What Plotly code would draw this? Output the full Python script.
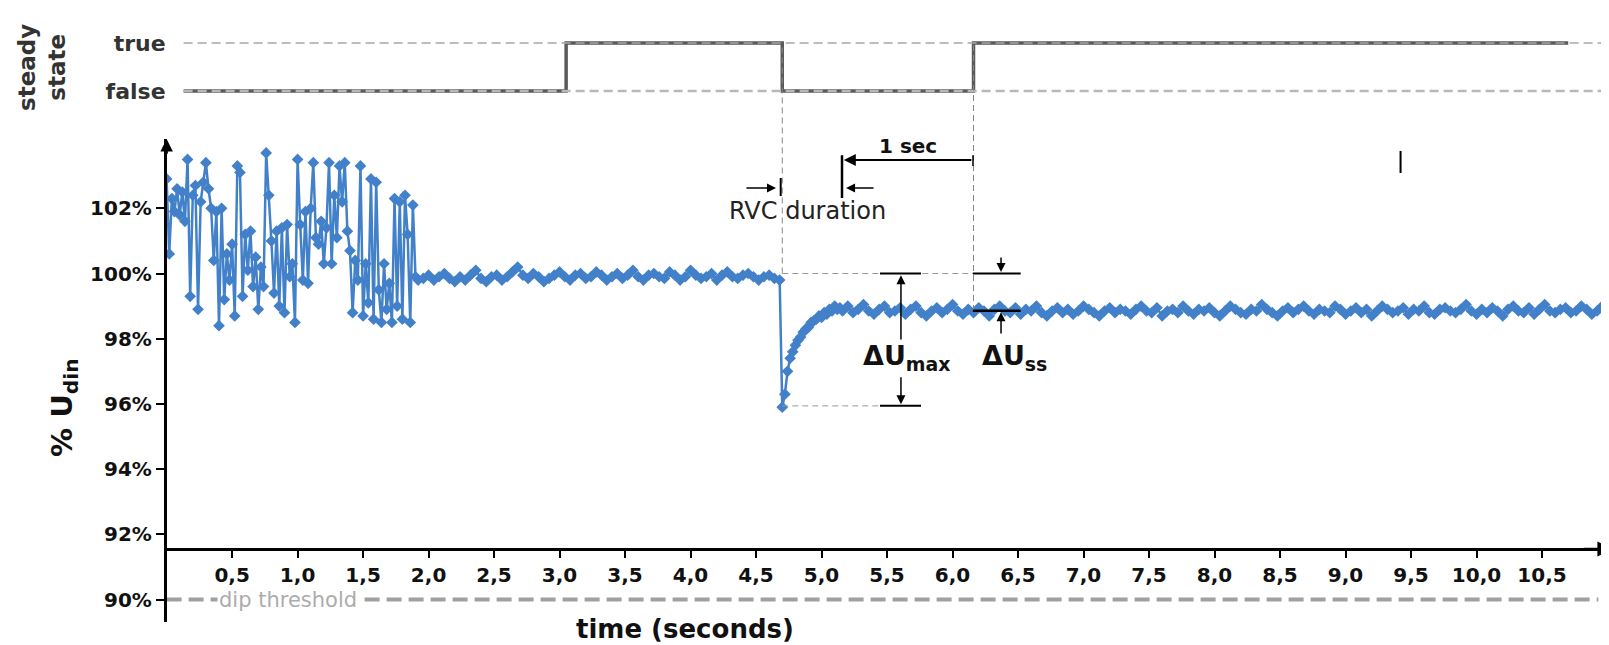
import plotly.graph_objects as go

W, H = 1609, 645

# ---------------- data ----------------
noisy_start, noisy_step = 0.0, 0.02
noisy_vals = [102.9, 100.6, 102.3, 101.9, 102.6, 101.8, 102.5, 101.6, 103.5, 99.3,
              102.4, 102.7, 98.9, 102.2, 102.8, 103.4, 102.6, 102.0, 100.4, 101.9,
              98.4, 102.0, 99.2, 100.6, 99.8, 100.9, 98.7, 103.3, 103.1, 99.3,
              101.2, 100.1, 101.3, 99.6, 100.5, 98.9, 100.2, 99.6, 103.7, 102.4,
              101.0, 99.4, 101.3, 99.0, 101.4, 98.8, 101.5, 99.9, 100.3, 98.5,
              103.5, 101.5, 99.8, 101.9, 99.7, 102.0, 103.4, 101.1, 100.9, 101.6,
              100.3, 101.4, 103.4, 100.3, 102.4, 101.1, 103.3, 102.2, 103.4, 101.3,
              100.7, 98.8, 100.4, 99.8, 103.3, 98.7, 100.3, 99.1, 102.9, 98.6,
              102.8, 99.5, 98.5, 100.3, 98.9, 99.7, 98.5, 102.3, 99.0, 102.2,
              98.6, 102.4, 101.2, 98.5, 102.1, 99.9, 99.8]

calm_start, calm_step = 1.96, 0.04
calm_vals = [99.85, 99.95, 99.8, 99.9, 100.0, 99.85, 99.75, 99.9, 99.8, 99.95,
             100.1, 99.85, 99.75, 99.9, 99.95, 99.8, 99.9, 100.05, 100.2, 99.95,
             99.85, 100.0, 99.9, 99.75, 99.85, 99.95, 100.05, 99.9, 99.8, 99.95,
             100.0, 99.85, 99.9, 100.05, 99.95, 99.8, 99.9, 100.0, 99.85, 99.95,
             100.1, 99.9, 99.8, 99.95, 100.0, 99.9, 99.85, 100.05, 99.95, 99.8,
             99.9, 100.1, 99.95, 99.85, 99.9, 100.0, 99.8, 99.95, 100.05, 99.9,
             99.85, 99.95, 100.0, 99.9, 99.8, 99.9, 99.95, 99.85, 99.8]

dip_start, dip_step = 4.70, 0.02
dip_vals = [95.9, 96.3, 97.0, 97.4, 97.6, 97.8, 97.95, 98.05, 98.2, 98.3,
            98.35, 98.5, 98.55, 98.6, 98.7, 98.65, 98.8, 98.75, 98.9, 98.85,
            99.0, 98.9, 98.95]

recov_start, recov_step = 5.16, 0.04
recov_vals = [98.85, 99.0, 98.8, 98.9, 99.05, 98.85, 98.75, 98.9, 99.0, 98.8,
              98.85, 98.95, 98.75, 98.9, 99.0, 98.8, 98.7, 98.85, 98.95, 98.8,
              98.9, 99.05, 98.85, 98.75, 98.9, 98.8, 98.95, 98.85, 98.7, 98.9,
              99.0, 98.85, 98.8, 98.95, 98.75, 98.9, 98.85, 99.0, 98.8, 98.7,
              98.85, 98.95, 98.8, 98.9, 98.75, 98.85, 99.0, 98.9, 98.8, 98.7,
              98.85, 98.95, 98.8, 98.9, 98.85, 98.75, 98.9, 99.0, 98.85, 98.8,
              98.95, 98.7, 98.85, 98.9, 98.8, 99.0, 98.85, 98.75, 98.9, 98.85,
              98.95, 98.8, 98.7, 98.85, 99.0, 98.9, 98.8, 98.75, 98.9, 98.85,
              99.05, 98.9, 98.8, 98.7, 98.85, 98.95, 98.8, 98.9, 99.0, 98.85,
              98.75, 98.9, 98.85, 98.8, 99.0, 98.9, 98.75, 98.85, 98.95, 98.8,
              98.9, 98.7, 98.85, 99.0, 98.9, 98.8, 98.85, 98.95, 98.75, 98.9,
              98.85, 99.0, 98.8, 98.75, 98.9, 98.95, 98.85, 98.8, 98.9, 99.05,
              98.85, 98.75, 98.9, 98.8, 98.95, 98.85, 98.7, 98.9, 99.0, 98.85,
              98.8, 98.95, 98.75, 98.9, 99.05, 98.85, 98.8, 98.9, 98.95, 98.8,
              98.85, 99.0, 98.9, 98.75, 98.85, 99.0, 98.9]

steady_t = [0.13, 3.05, 4.70, 6.16, 10.70]
steady_v = [0, 1, 0, 1, 1]
state_labels = ["false", "true"]

y_tick_vals = [90, 92, 94, 96, 98, 100, 102]
y_tick_text = [f"{v}%" for v in y_tick_vals]
x_tick_vals = [0.5, 1.0, 1.5, 2.0, 2.5, 3.0, 3.5, 4.0, 4.5, 5.0, 5.5,
               6.0, 6.5, 7.0, 7.5, 8.0, 8.5, 9.0, 9.5, 10.0, 10.5]
x_tick_text = [f"{v:.1f}".replace(".", ",") for v in x_tick_vals]

# key event values
t_drop, t_steady = 4.70, 6.16
u_nominal, u_min, u_ss = 100.0, 95.94, 98.86
dip_threshold = 90

# ---------------- build ----------------
def seg(start, step, vals):
    return [round(start + i * step, 4) for i in range(len(vals))]

t_all = (seg(noisy_start, noisy_step, noisy_vals) + seg(calm_start, calm_step, calm_vals)
         + seg(dip_start, dip_step, dip_vals) + seg(recov_start, recov_step, recov_vals))
u_all = noisy_vals + calm_vals + dip_vals + recov_vals

BLUE = "#4281c9"
FONT = "DejaVu Sans"
X_MAX = 11.057
Y_MIN, Y_MAX = 89.31, 104.126
X_AXIS_Y = 91.549

def py(px):  # pixel row -> paper fraction
    return (H - px) / H

fig = go.Figure()
fig.add_trace(go.Scatter(x=t_all, y=u_all, mode="lines+markers",
                         line=dict(color=BLUE, width=2.5),
                         marker=dict(symbol="diamond", size=9, color=BLUE),
                         xaxis="x", yaxis="y", showlegend=False, hoverinfo="skip"))
fig.add_trace(go.Scatter(x=steady_t, y=steady_v, mode="lines", line_shape="hv",
                         line=dict(color="#5a5a5a", width=3.5),
                         xaxis="x", yaxis="y2", showlegend=False, hoverinfo="skip"))

shapes = []
def sh(x0, y0, x1, y1, color="black", width=2, dash="solid", xref="x", yref="y"):
    shapes.append(dict(type="line", x0=x0, y0=y0, x1=x1, y1=y1, xref=xref, yref=yref,
                       line=dict(color=color, width=width, dash=dash), layer="above"))

# steady-state reference lines
sh(0.13, 1, X_MAX, 1, "#a8a8a8", 1.3, "9px,5px", yref="y2")
sh(0.13, 0, X_MAX, 0, "#b8b8b8", 2.5, "9px,5px", yref="y2")
# dip threshold
shapes.append(dict(type="line", x0=0, x1=10.93, y0=dip_threshold, y1=dip_threshold,
                   xref="x", yref="y", line=dict(color="#a0a0a0", width=4, dash="15px,7px"),
                   layer="below"))
# vertical guide lines
sh(t_drop, py(265.5), t_drop, py(35), "#888888", 1, "6px,4px", yref="paper")
sh(t_steady, py(303), t_steady, py(35), "#888888", 1, "6px,4px", yref="paper")
# horizontal guide lines
sh(t_drop, u_nominal, t_steady, u_nominal, "#999999", 1, "6px,4px")
sh(t_drop, u_min, 5.45, u_min, "#999999", 1, "6px,4px")
# delta U max bars
sh(5.446, u_nominal, 5.759, u_nominal, "black", 2)
sh(5.446, u_min, 5.759, u_min, "black", 2)
# delta U ss bars
sh(6.155, u_nominal, 6.52, u_nominal, "black", 2)
sh(6.155, u_ss, 6.52, u_ss, "black", 2.5)
# RVC and 1 sec markers
sh(4.688, 102.38, 4.688, 102.93, "black", 2)
sh(5.156, 102.32, 5.156, 103.63, "black", 2.5)
sh(6.156, 103.30, 6.156, 103.63, "black", 1.5)
sh(9.42, 103.08, 9.42, 103.76, "black", 2)

ann = []
def arrow(xt, yt, xs, ys, width=1.5, head=2, size=1.2):
    ann.append(dict(x=xt, y=yt, ax=xs, ay=ys, xref="x", yref="y", axref="x", ayref="y",
                    text="", showarrow=True, arrowhead=head, arrowsize=size,
                    arrowwidth=width, arrowcolor="black", standoff=0, startstandoff=0))

arrow(4.652, 102.62, 4.415, 102.62)
arrow(5.187, 102.62, 5.408, 102.62)
arrow(5.17, 103.48, 6.155, 103.48, width=2)
arrow(5.606, 99.95, 5.606, 97.93)
arrow(5.606, 95.99, 5.606, 96.86)
arrow(6.37, 100.05, 6.37, 100.54)
arrow(6.37, 98.81, 6.37, 98.11)
arrow(0, Y_MAX, 0, Y_MAX - 0.5, width=2.5, size=1)
arrow(X_MAX - 0.02, X_AXIS_Y, X_MAX - 0.25, X_AXIS_Y, width=2.5, size=1.2)

def txt(x, y, text, size, bold=False, color="#111", xref="x", yref="y", angle=0,
        xanchor="center", yanchor="middle", **kw):
    ann.append(dict(x=x, y=y, xref=xref, yref=yref, text=text, showarrow=False,
                    textangle=angle, xanchor=xanchor, yanchor=yanchor,
                    font=dict(family=FONT, size=size, color=color,
                              weight="bold" if bold else "normal"), **kw))

txt(5.66, 103.91, "1 sec", 20, True)
txt(4.896, 101.92, "RVC duration", 24, False, "#222")
txt(5.65, 97.41, "ΔU<sub>max</sub>", 27, True)
txt(6.47, 97.41, "ΔU<sub>ss</sub>", 27, True)
txt(0.93, dip_threshold, "dip threshold", 21, False, "#acacac", bgcolor="white", borderpad=1)
txt(56 / W, py(400), "% U<sub>din</sub>", 29, True, xref="paper", yref="paper", angle=-90)
txt(34 / W, py(60), "steady<br>state", 23, True, "#333", xref="paper", yref="paper", angle=-90)
txt(677 / W, py(621), "time (seconds)", 26, True, xref="paper", yref="paper")

tickfont = dict(family=FONT, size=20, color="#111", weight="bold")

fig.update_layout(
    width=W, height=H, margin=dict(l=0, r=0, t=0, b=0),
    paper_bgcolor="white", plot_bgcolor="rgba(0,0,0,0)",
    showlegend=False, shapes=shapes, annotations=ann,
    xaxis=dict(domain=[158.6 / W, 1607 / W], range=[0, X_MAX], anchor="free",
               position=py(541), showline=True, linecolor="black", linewidth=3,
               ticks="outside", ticklen=7, tickwidth=1.5, tickcolor="black",
               tickvals=x_tick_vals, ticktext=x_tick_text, tickfont=tickfont,
               showgrid=False, zeroline=False),
    yaxis=dict(domain=[py(614), py(131)], range=[Y_MIN, Y_MAX], anchor="x",
               showline=True, linecolor="black", linewidth=2.5,
               ticks="outside", ticklen=8, tickwidth=1.5, tickcolor="black",
               tickvals=y_tick_vals, ticktext=y_tick_text, tickfont=tickfont,
               showgrid=False, zeroline=False),
    yaxis2=dict(domain=[py(100), py(20)], range=[-0.35417, 1.3125], anchor="x",
                showline=False, ticks="", tickvals=[0, 1], ticktext=state_labels,
                tickfont=dict(family=FONT, size=22, color="#333", weight="bold"),
                showgrid=False, zeroline=False),
)

fig.write_html("out.html")
